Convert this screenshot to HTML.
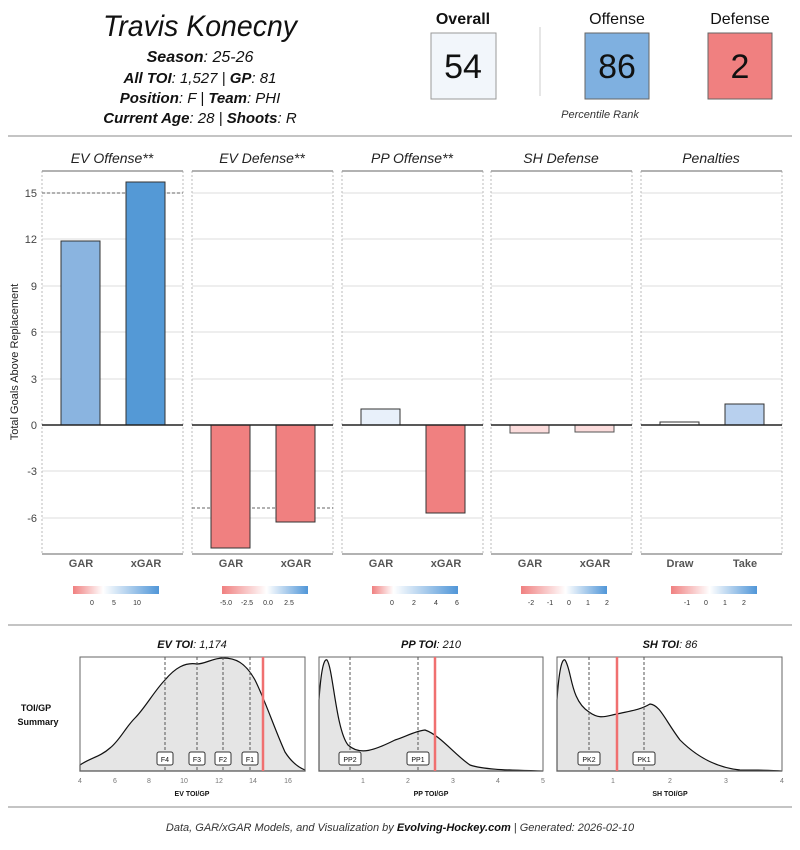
<!DOCTYPE html>
<html><head><meta charset="utf-8"><style>
body{margin:0;background:#fff}
svg{display:block;font-family:"Liberation Sans",sans-serif}
</style></head><body>
<svg width="800" height="850" viewBox="0 0 800 850" xmlns="http://www.w3.org/2000/svg">
<defs>
<linearGradient id="g1"><stop offset="0" stop-color="#f08080"/><stop offset="0.35" stop-color="#fff"/><stop offset="1" stop-color="#5096d8"/></linearGradient>
<linearGradient id="g2"><stop offset="0" stop-color="#f08080"/><stop offset="0.52" stop-color="#fff"/><stop offset="1" stop-color="#5096d8"/></linearGradient>
<linearGradient id="g3"><stop offset="0" stop-color="#f08080"/><stop offset="0.25" stop-color="#fff"/><stop offset="1" stop-color="#5096d8"/></linearGradient>
<linearGradient id="g5"><stop offset="0" stop-color="#f08080"/><stop offset="0.45" stop-color="#fff"/><stop offset="1" stop-color="#5096d8"/></linearGradient>
</defs>
<!-- header -->
<g text-anchor="middle" fill="#111" font-style="italic">
<text x="200" y="36" font-size="30" textLength="194" lengthAdjust="spacingAndGlyphs">Travis Konecny</text>
<text x="200" y="62" font-size="16"><tspan font-weight="bold">Season</tspan>: 25-26</text>
<text x="200" y="83" font-size="15"><tspan font-weight="bold">All TOI</tspan>: 1,527 | <tspan font-weight="bold">GP</tspan>: 81</text>
<text x="200" y="103" font-size="15"><tspan font-weight="bold">Position</tspan>: F | <tspan font-weight="bold">Team</tspan>: PHI</text>
<text x="200" y="123" font-size="15"><tspan font-weight="bold">Current Age</tspan>: 28 | <tspan font-weight="bold">Shoots</tspan>: R</text>
</g>
<g text-anchor="middle" fill="#111" font-size="16">
<text x="463" y="24" font-weight="bold">Overall</text>
<text x="617" y="24">Offense</text>
<text x="740" y="24">Defense</text>
<rect x="431" y="33" width="65" height="66" fill="#f2f6fb" stroke="#999"/>
<rect x="585" y="33" width="64" height="66" fill="#7fb0e0" stroke="#666"/>
<rect x="708" y="33" width="64" height="66" fill="#f08080" stroke="#666"/>
<text x="463" y="78" font-size="34">54</text>
<text x="617" y="78" font-size="34">86</text>
<text x="740" y="78" font-size="34">2</text>
<text x="600" y="118" font-size="11" font-style="italic" fill="#333">Percentile Rank</text>
</g>
<line x1="540" y1="27" x2="540" y2="96" stroke="#ccc"/>
<line x1="8" y1="136" x2="792" y2="136" stroke="#888"/>

<!-- y axis -->
<text transform="translate(18,362) rotate(-90)" text-anchor="middle" font-size="11" fill="#222">Total Goals Above Replacement</text>
<g font-size="11" fill="#444" text-anchor="end">
<text x="37" y="197">15</text><text x="37" y="243">12</text><text x="37" y="290">9</text><text x="37" y="336">6</text><text x="37" y="383">3</text><text x="37" y="429">0</text><text x="37" y="475">-3</text><text x="37" y="522">-6</text>
</g>

<!-- panels -->
<g id="panels">
<g transform="translate(42,0)">
 <g stroke="#ddd"><line x1="0" x2="141" y1="193" y2="193"/><line x1="0" x2="141" y1="239" y2="239"/><line x1="0" x2="141" y1="286" y2="286"/><line x1="0" x2="141" y1="332" y2="332"/><line x1="0" x2="141" y1="379" y2="379"/><line x1="0" x2="141" y1="471" y2="471"/><line x1="0" x2="141" y1="518" y2="518"/></g>
 <line x1="0" x2="0" y1="171" y2="554" stroke="#bbb" stroke-dasharray="2,2"/><line x1="141" x2="141" y1="171" y2="554" stroke="#bbb" stroke-dasharray="2,2"/>
 <line x1="0" x2="141" y1="171" y2="171" stroke="#999" stroke-width="1.5"/><line x1="0" x2="141" y1="554" y2="554" stroke="#999" stroke-width="1.5"/>
</g>
</g>
<use href="#panels" x="150"/><use href="#panels" x="300"/><use href="#panels" x="449"/><use href="#panels" x="599"/>

<!-- panel 1 -->
<line x1="42" x2="183" y1="193" y2="193" stroke="#666" stroke-dasharray="3,2"/>
<rect x="61" y="241" width="39" height="184" fill="#8ab4e0" stroke="#333"/>
<rect x="126" y="182" width="39" height="243" fill="#5499d6" stroke="#333"/>
<!-- panel 2 -->
<line x1="192" x2="333" y1="508" y2="508" stroke="#666" stroke-dasharray="3,2"/>
<rect x="211" y="425" width="39" height="123" fill="#f08080" stroke="#333"/>
<rect x="276" y="425" width="39" height="97" fill="#f08080" stroke="#333"/>
<!-- panel 3 -->
<rect x="361" y="409" width="39" height="16" fill="#e8f0fa" stroke="#333"/>
<rect x="426" y="425" width="39" height="88" fill="#f08080" stroke="#333"/>
<!-- panel 4 -->
<rect x="510" y="425" width="39" height="8" fill="#fbdcdc" stroke="#555"/>
<rect x="575" y="425" width="39" height="7" fill="#fbdcdc" stroke="#555"/>
<!-- panel 5 -->
<rect x="660" y="422" width="39" height="3" fill="#fff" stroke="#333"/>
<rect x="725" y="404" width="39" height="21" fill="#b8d0ee" stroke="#333"/>
<g stroke="#222" stroke-width="1.5"><line x1="42" x2="183" y1="425" y2="425"/><line x1="192" x2="333" y1="425" y2="425"/><line x1="342" x2="483" y1="425" y2="425"/><line x1="491" x2="632" y1="425" y2="425"/><line x1="641" x2="782" y1="425" y2="425"/></g>

<g text-anchor="middle" font-size="14" font-style="italic" fill="#222">
<text x="112" y="163">EV Offense**</text><text x="262" y="163">EV Defense**</text><text x="412" y="163">PP Offense**</text><text x="561" y="163">SH Defense</text><text x="711" y="163">Penalties</text>
</g>
<g text-anchor="middle" font-size="11" font-weight="bold" fill="#555">
<text x="81" y="567">GAR</text><text x="146" y="567">xGAR</text>
<text x="231" y="567">GAR</text><text x="296" y="567">xGAR</text>
<text x="381" y="567">GAR</text><text x="446" y="567">xGAR</text>
<text x="530" y="567">GAR</text><text x="595" y="567">xGAR</text>
<text x="680" y="567">Draw</text><text x="745" y="567">Take</text>
</g>
<rect x="73" y="586" width="86" height="8" fill="url(#g1)"/>
<rect x="222" y="586" width="86" height="8" fill="url(#g2)"/>
<rect x="372" y="586" width="86" height="8" fill="url(#g3)"/>
<rect x="521" y="586" width="86" height="8" fill="url(#g2)"/>
<rect x="671" y="586" width="86" height="8" fill="url(#g5)"/>
<g text-anchor="middle" font-size="7" fill="#333">
<text x="92" y="605">0</text><text x="114" y="605">5</text><text x="137" y="605">10</text>
<text x="226" y="605">-5.0</text><text x="247" y="605">-2.5</text><text x="268" y="605">0.0</text><text x="289" y="605">2.5</text>
<text x="392" y="605">0</text><text x="414" y="605">2</text><text x="436" y="605">4</text><text x="457" y="605">6</text>
<text x="531" y="605">-2</text><text x="550" y="605">-1</text><text x="569" y="605">0</text><text x="588" y="605">1</text><text x="607" y="605">2</text>
<text x="687" y="605">-1</text><text x="706" y="605">0</text><text x="725" y="605">1</text><text x="744" y="605">2</text>
</g>
<line x1="8" y1="625" x2="792" y2="625" stroke="#888"/>

<!-- density panels -->
<g text-anchor="middle" font-size="11" font-style="italic" fill="#111">
<text x="192" y="648"><tspan font-weight="bold">EV TOI</tspan>: 1,174</text>
<text x="431" y="648"><tspan font-weight="bold">PP TOI</tspan>: 210</text>
<text x="670" y="648"><tspan font-weight="bold">SH TOI</tspan>: 86</text>
</g>
<g text-anchor="middle" font-size="9" font-weight="bold" fill="#111">
<text x="36" y="711">TOI/GP</text><text x="38" y="725">Summary</text>
</g>
<g fill="#e5e5e5" stroke="#111" stroke-width="1.2">
<path d="M80,765 C90,758 100,757 110,748 C120,740 125,728 135,718 C145,708 155,690 165,680 C175,668 185,662 197,664 C205,664 213,658 223,658 C235,658 245,662 255,680 C265,700 275,730 285,752 C292,763 300,768 305,770 L305,771 L80,771 Z"/>
<path d="M319,700 C321,670 324,658 327,660 C333,668 336,730 348,745 C360,756 375,750 395,740 C405,737 415,731 425,730 C440,735 455,755 470,765 C485,770 510,770 543,771 L319,771 Z"/>
<path d="M557,700 C559,670 562,658 565,660 C572,670 570,700 589,712 C600,720 606,716 617,714 C630,711 640,710 650,704 C660,705 665,720 680,740 C700,760 720,768 740,770 C760,770 770,770 782,771 L557,771 Z"/>
</g>
<g fill="none" stroke="#666" stroke-width="1">
<rect x="80" y="657" width="225" height="114"/>
<rect x="319" y="657" width="224" height="114"/>
<rect x="557" y="657" width="225" height="114"/>
</g>
<g stroke="#555" stroke-dasharray="3,2">
<line x1="165" x2="165" y1="657" y2="771"/><line x1="197" x2="197" y1="657" y2="771"/><line x1="223" x2="223" y1="657" y2="771"/><line x1="250" x2="250" y1="657" y2="771"/>
<line x1="350" x2="350" y1="657" y2="771"/><line x1="418" x2="418" y1="657" y2="771"/>
<line x1="589" x2="589" y1="657" y2="771"/><line x1="644" x2="644" y1="657" y2="771"/>
</g>
<g stroke="#f07070" stroke-width="2.5">
<line x1="263" x2="263" y1="657" y2="771"/><line x1="435" x2="435" y1="657" y2="771"/><line x1="617" x2="617" y1="657" y2="771"/>
</g>
<g fill="#fff" stroke="#333" stroke-width="1">
<rect x="157" y="752" width="16" height="13" rx="2"/><rect x="189" y="752" width="16" height="13" rx="2"/><rect x="215" y="752" width="16" height="13" rx="2"/><rect x="242" y="752" width="16" height="13" rx="2"/>
<rect x="339" y="752" width="22" height="13" rx="2"/><rect x="407" y="752" width="22" height="13" rx="2"/>
<rect x="578" y="752" width="22" height="13" rx="2"/><rect x="633" y="752" width="22" height="13" rx="2"/>
</g>
<g text-anchor="middle" font-size="7" fill="#111">
<text x="165" y="762">F4</text><text x="197" y="762">F3</text><text x="223" y="762">F2</text><text x="250" y="762">F1</text>
<text x="350" y="762">PP2</text><text x="418" y="762">PP1</text>
<text x="589" y="762">PK2</text><text x="644" y="762">PK1</text>
</g>
<g text-anchor="middle" font-size="7" fill="#777">
<text x="80" y="783">4</text><text x="115" y="783">6</text><text x="149" y="783">8</text><text x="184" y="783">10</text><text x="219" y="783">12</text><text x="253" y="783">14</text><text x="288" y="783">16</text>
<text x="363" y="783">1</text><text x="408" y="783">2</text><text x="453" y="783">3</text><text x="498" y="783">4</text><text x="543" y="783">5</text>
<text x="613" y="783">1</text><text x="670" y="783">2</text><text x="726" y="783">3</text><text x="782" y="783">4</text>
</g>
<g text-anchor="middle" font-size="7" font-weight="bold" fill="#111">
<text x="192" y="796">EV TOI/GP</text><text x="431" y="796">PP TOI/GP</text><text x="670" y="796">SH TOI/GP</text>
</g>
<line x1="8" y1="807" x2="792" y2="807" stroke="#888"/>
<text x="400" y="831" text-anchor="middle" font-size="11" font-style="italic" fill="#333">Data, GAR/xGAR Models, and Visualization by <tspan font-weight="bold" fill="#111">Evolving-Hockey.com</tspan> | Generated: 2026-02-10</text>
</svg>
</body></html>
